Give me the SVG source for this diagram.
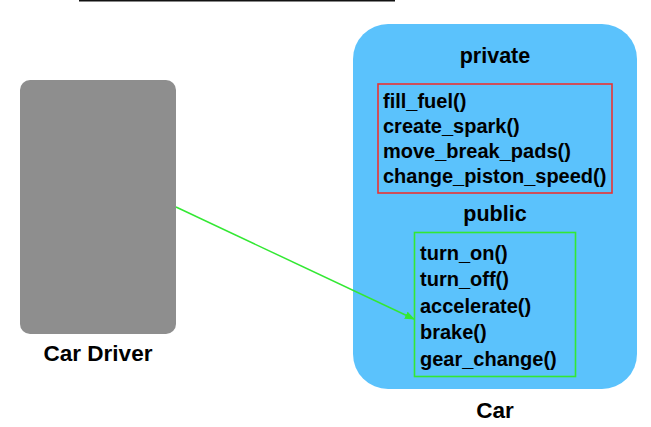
<svg xmlns="http://www.w3.org/2000/svg" width="651" height="427" viewBox="0 0 651 427">
<style>
text{font-family:"Liberation Sans",Arial,sans-serif;font-weight:bold;fill:#000}
.t{font-size:20px}
.h{font-size:21.5px;text-anchor:middle}
.l{font-size:22.5px;text-anchor:middle}
</style>
<defs>
<marker id="ah" markerWidth="10" markerHeight="8" refX="9" refY="4" orient="auto" markerUnits="userSpaceOnUse">
<path d="M0,0 L10,4 L0,8 Z" fill="#33e833"/>
</marker>
</defs>
<line x1="79" y1="0.5" x2="395" y2="0.5" stroke="#111" stroke-width="2"/>
<g id="driver">
<rect x="20" y="80" width="156" height="254" rx="10" fill="#8e8e8e"/>
<text class="l" x="98" y="361">Car Driver</text>
</g>
<g id="car">
<rect x="353" y="24" width="284" height="365" rx="35" fill="#5bc2fc"/>
<text class="h" x="495" y="63">private</text>
<rect x="378" y="84" width="234" height="109" fill="none" stroke="#ea3232" stroke-width="1.6"/>
<text class="t" x="383" y="108">fill_fuel()</text>
<text class="t" x="383" y="133">create_spark()</text>
<text class="t" x="383" y="158">move_break_pads()</text>
<text class="t" x="383" y="183">change_piston_speed()</text>
<text class="h" x="495" y="221">public</text>
<rect x="414.5" y="232.5" width="161" height="144" fill="none" stroke="#33e833" stroke-width="1.6"/>
<text class="t" x="420" y="260">turn_on()</text>
<text class="t" x="420" y="286">turn_off()</text>
<text class="t" x="420" y="313">accelerate()</text>
<text class="t" x="420" y="339">brake()</text>
<text class="t" x="420" y="366">gear_change()</text>
<text class="l" x="495" y="418">Car</text>
</g>
<g id="connectors">
<line x1="176" y1="207" x2="414" y2="319" stroke="#33e833" stroke-width="1.5" marker-end="url(#ah)"/>
</g>
</svg>
